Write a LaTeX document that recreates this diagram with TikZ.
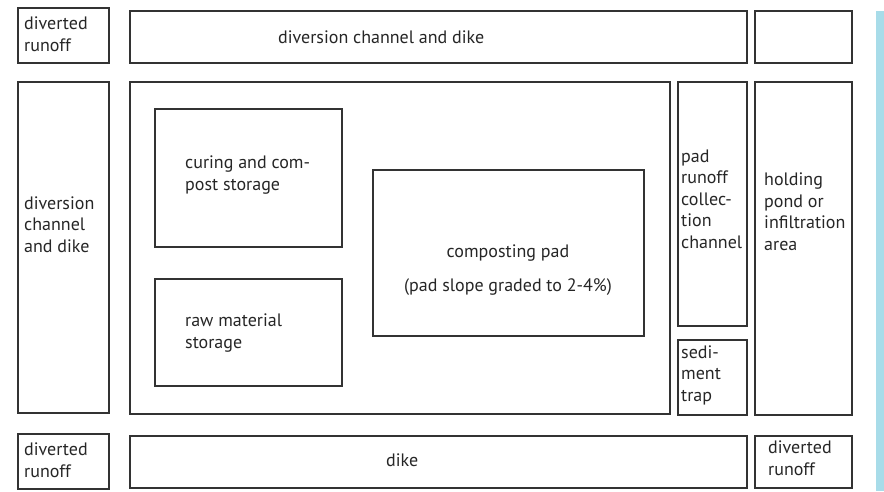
\documentclass[tikz,border=0pt]{standalone}
\usepackage{fontspec}
\setmainfont{PT Sans}
\usetikzlibrary{positioning}
\definecolor{barblue}{RGB}{168,220,233}

\begin{document}
\begin{tikzpicture}[
    x=1pt, y=-1pt,
    area/.style={draw=black!80, line width=1.2pt},
    lbl/.style={font=\fontsize{18}{21.5}\selectfont, inner sep=0pt, align=left, text=black!85, anchor=base west},
    mid/.style={font=\fontsize{18}{21.5}\selectfont, inner sep=0pt, align=center, text=black!85, anchor=base}
]
\useasboundingbox (0,0) rectangle (884,491);

% Side bar
\fill[barblue] (876,11) rectangle (884,491);

% === Row 0: top strip ===
\draw[area] (18,8) rectangle (109,63);
\draw[area] (130,11) rectangle (747,63);
\draw[area] (755,11) rectangle (852,63);
\node[lbl] (runTL) at (24,51) {diverted\\runoff};
\node[lbl] (chanT) at (278,43) {diversion channel and dike};

% === Row 1: site ===
\draw[area] (18,82) rectangle (109,413);
\draw[area] (130,82) rectangle (670,414);
\draw[area] (678,82) rectangle (747,326);
\draw[area] (678,340) rectangle (747,415);
\draw[area] (755,82) rectangle (852,415);
\node[lbl] (chanL) at (24,252) {diversion\\channel\\and dike};
\node[lbl] (padrun) at (681,248) {pad\\runoff\\collec-\\tion\\channel};
\node[lbl] (trap) at (681,401) {sedi-\\ment\\trap};
\node[lbl] (pond) at (764,250) {holding\\pond or\\infiltration\\area};

% Inner storage and pad
\draw[area] (155,109) rectangle (342,247);
\draw[area] (155,279) rectangle (342,386);
\draw[area] (373,170) rectangle (644,336);
\node[lbl] (curing) at (185,190) {curing and com-\\post storage};
\node[lbl] (raw) at (185,348) {raw material\\storage};
\node[mid] (pad) at (508,257) {composting pad};
\node[mid] (slope) at (508,291) {(pad slope graded to 2-4\%)};

% === Row 2: bottom strip ===
\draw[area] (18,434) rectangle (109,489);
\draw[area] (130,436) rectangle (747,488);
\draw[area] (755,436) rectangle (852,488);
\node[lbl] (runBL) at (24,477) {diverted\\runoff};
\node[lbl] (dike) at (386,466) {dike};
\node[lbl] (runBR) at (768,475) {diverted\\runoff};
\end{tikzpicture}
\end{document}
